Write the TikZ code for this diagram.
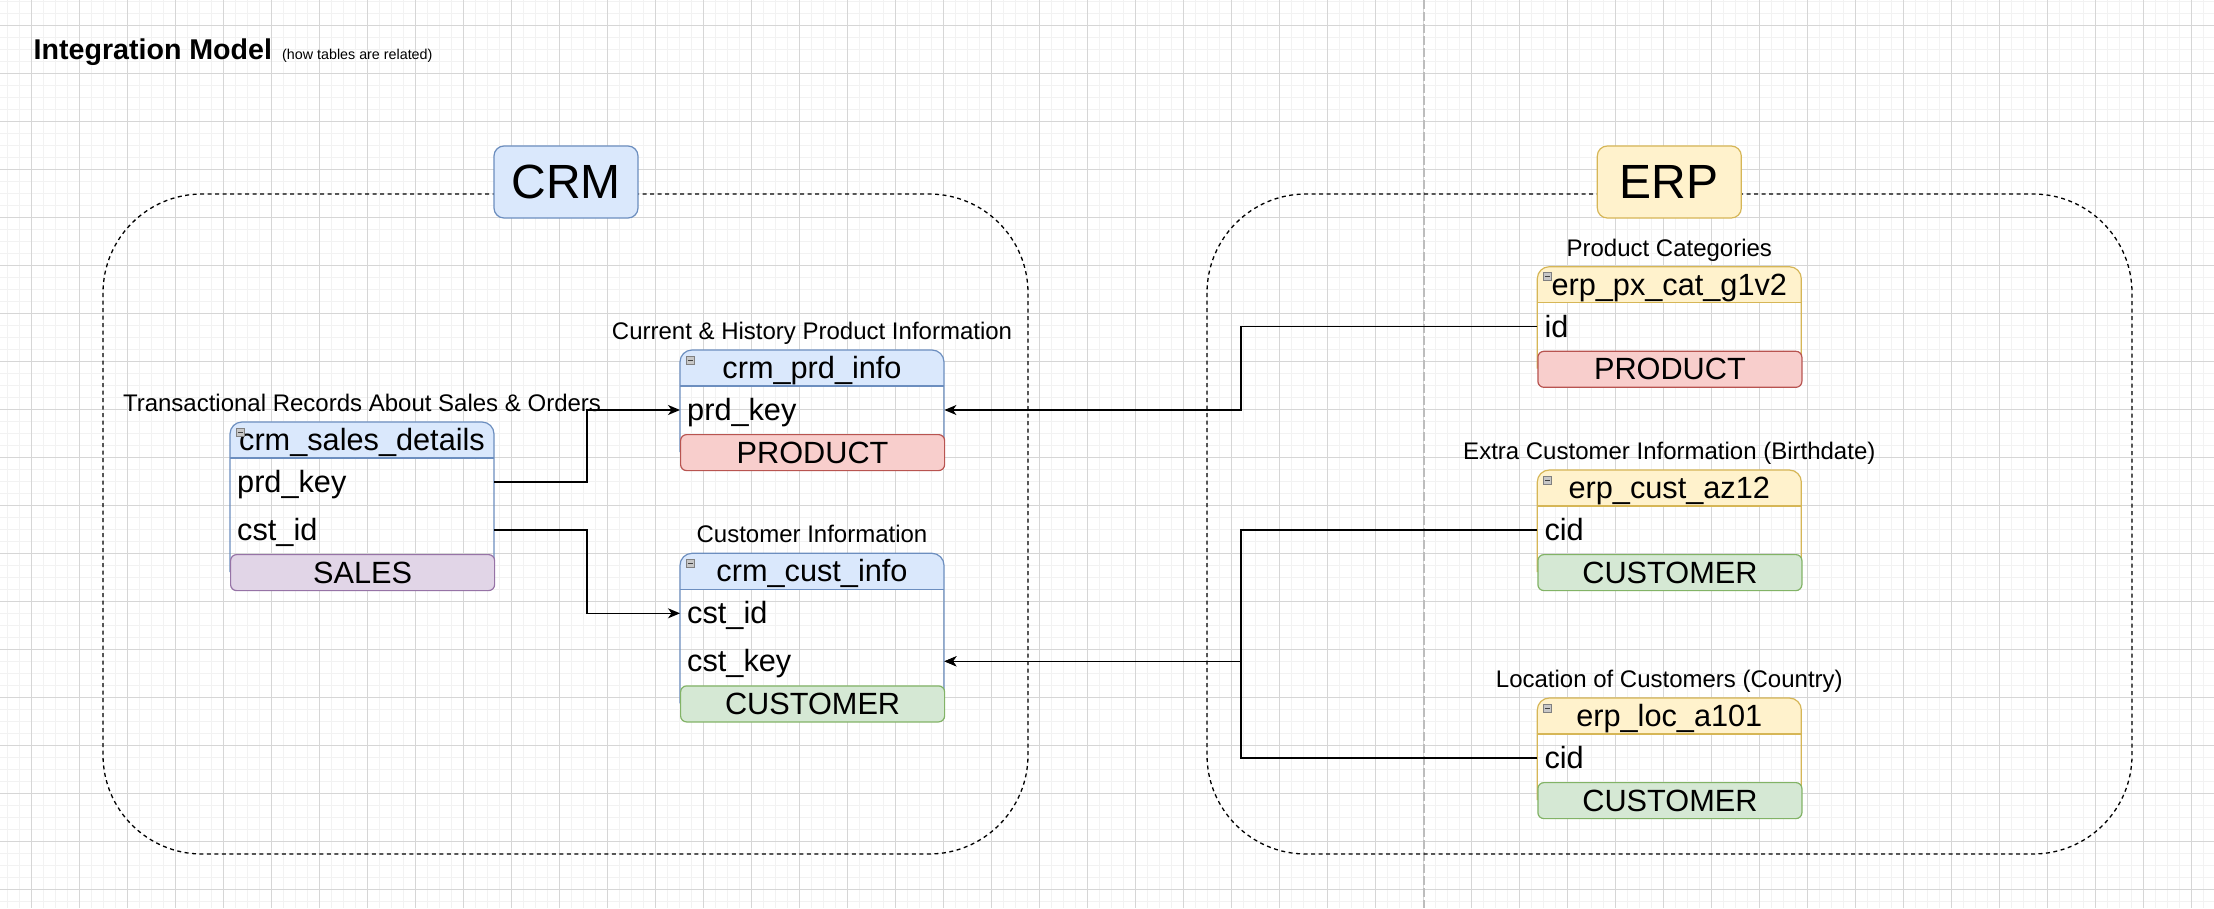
\documentclass[tikz,border=0pt]{standalone}
\usepackage{fontspec}
\setmainfont{Liberation Sans}
\usetikzlibrary{arrows.meta}
\definecolor{blueF}{HTML}{DAE8FC}\definecolor{blueS}{HTML}{6C8EBF}
\definecolor{yellowF}{HTML}{FFF2CC}\definecolor{yellowS}{HTML}{D6B656}
\definecolor{redF}{HTML}{F8CECC}\definecolor{redS}{HTML}{B85450}
\definecolor{greenF}{HTML}{D5E8D4}\definecolor{greenS}{HTML}{82B366}
\definecolor{purpleF}{HTML}{E1D5E7}\definecolor{purpleS}{HTML}{9673A6}
\definecolor{gridMinor}{HTML}{F2F2F2}\definecolor{gridMajor}{HTML}{D6D6D6}
\definecolor{pageLine}{HTML}{BDBDBD}
\tikzset{
  tblline/.style={line width=1.2pt},
  headtext/.style={inner sep=0pt, font=\fontsize{30.7}{36}\selectfont, text height=27.8pt, text depth=6.5pt},
  rowtext/.style={anchor=west, inner xsep=7pt, inner ysep=0pt, minimum height=48pt, text width=250pt, align=left,
    font=\fontsize{30.7}{36}\selectfont, text height=27.8pt, text depth=6.5pt},
  foottext/.style={rounded corners=6pt, tblline, minimum width=264pt, minimum height=36pt, inner sep=0pt,
    font=\fontsize{30.7}{36}\selectfont, text height=27.8pt, text depth=6.5pt},
  lbltext/.style={inner sep=0pt, font=\fontsize{24}{29}\selectfont, text height=21.7pt, text depth=5.1pt},
  minusicon/.style={minimum size=8pt, inner sep=0pt, draw=black!50, fill=black!22, line width=0.8pt,
    path picture={\draw[black!75, line width=1pt] ([xshift=1.5pt]path picture bounding box.west) -- ([xshift=-1.5pt]path picture bounding box.east);}},
  grouplbl/.style={rounded corners=10pt, minimum width=144pt, minimum height=72pt, inner sep=0pt, line width=1.2pt,
    font=\fontsize{48}{58}\selectfont, text height=43.4pt, text depth=10.2pt},
  container/.style={draw=black, line width=1.3pt, dash pattern=on 4pt off 3.5pt, rounded corners=99pt},
  conn/.style={draw=black, line width=1.5pt, -{Stealth[length=12pt, width=10pt, inset=3.5pt]}},
}
% #1 x, #2 top, #3 title, #4 header colour, #5 rows, #6 footer text, #7 footer colour, #8 label, #9 id
\newcommand\dbtable[9]{%
  \pgfmathsetmacro\tbot{#2+36+48*#5}%
  \fill[fill=#4F, rounded corners=12pt] (#1,#2+36) -- (#1,#2) -- (#1+264,#2) -- (#1+264,#2+36);
  \draw[draw=#4S, tblline, rounded corners=12pt] (#1,\tbot+18) -- (#1,#2) -- (#1+264,#2) -- (#1+264,\tbot+18);
  \draw[draw=#4S, tblline] (#1,#2+36) -- (#1+264,#2+36);
  \node[headtext] (#9H) at (#1+132,#2+18) {#3};
  \node[minusicon] (#9I) at (#1+10,#2+10) {};
  \node[foottext, fill=#7F, draw=#7S, anchor=north west] (#9F) at (#1,\tbot) {#6};
  \node[lbltext] (#9L) at (#1+132,#2-19) {#8};
}
\begin{document}
\begin{tikzpicture}[x=1pt, y=-1pt]
  \useasboundingbox (0,0) rectangle (2214,908);
  \fill[white] (0,0) rectangle (2214,908);
  % grid
  \begin{scope}
    \clip (0,0) rectangle (2214,908);
    \foreach \gx in {0,...,184} { \draw[gridMinor, line width=1pt] ({7.7+12*\gx},0) -- ({7.7+12*\gx},908); }
    \foreach \gy in {0,...,75} { \draw[gridMinor, line width=1pt] (0,{1.3+12*\gy}) -- (2214,{1.3+12*\gy}); }
    \foreach \gx in {0,...,45} { \draw[gridMajor, line width=1.2pt] ({31.7+48*\gx},0) -- ({31.7+48*\gx},908); }
    \foreach \gy in {0,...,18} { \draw[gridMajor, line width=1.2pt] (0,{25.3+48*\gy}) -- (2214,{25.3+48*\gy}); }
  \end{scope}
  % page break line
  \draw[pageLine, line width=1.5pt, dash pattern=on 9pt off 3pt] (1424,0) -- (1424,908);
  % title
  \node[anchor=base west, inner sep=0pt, font=\fontsize{28.6}{34}\selectfont\bfseries] (title) at (33.5,59.3) {Integration Model};
  \node[anchor=base west, inner sep=0pt, font=\fontsize{14.3}{17}\selectfont] (subtitle) at (282,59.3) {(how tables are related)};
  % containers
  \draw[container] (103,194) rectangle (1028,854);
  \draw[container] (1207,194) rectangle (2132,854);
  \node[grouplbl, fill=blueF, draw=blueS] (crm) at (566,182) {CRM};
  \node[grouplbl, fill=yellowF, draw=yellowS] (erp) at (1669.3,182) {ERP};
  % CRM tables
  \dbtable{230}{422}{crm\_sales\_details}{blue}{2}{SALES}{purple}{Transactional Records About Sales \& Orders}{sales}
  \node[rowtext] (salesPrd) at (230,482) {prd\_key};
  \node[rowtext] (salesCst) at (230,530) {cst\_id};
  \dbtable{680}{350}{crm\_prd\_info}{blue}{1}{PRODUCT}{red}{Current \& History Product Information}{prd}
  \node[rowtext] (prdKey) at (680,410) {prd\_key};
  \dbtable{680}{553.3}{crm\_cust\_info}{blue}{2}{CUSTOMER}{green}{Customer Information}{cust}
  \node[rowtext] (custId) at (680,613.3) {cst\_id};
  \node[rowtext] (custKey) at (680,661.3) {cst\_key};
  % ERP tables
  \dbtable{1537.3}{266.7}{erp\_px\_cat\_g1v2}{yellow}{1}{PRODUCT}{red}{Product Categories}{px}
  \node[rowtext] (pxId) at (1537.3,326.7) {id};
  \dbtable{1537.3}{470}{erp\_cust\_az12}{yellow}{1}{CUSTOMER}{green}{Extra Customer Information (Birthdate)}{az}
  \node[rowtext] (azCid) at (1537.3,530) {cid};
  \dbtable{1537.3}{698}{erp\_loc\_a101}{yellow}{1}{CUSTOMER}{green}{Location of Customers (Country)}{loc}
  \node[rowtext] (locCid) at (1537.3,758) {cid};
  % connectors
  \draw[conn] (salesPrd.east) -- ++(92.7,0) |- (prdKey.west);
  \draw[conn] (salesCst.east) -- ++(92.7,0) |- (custId.west);
  \draw[conn] (pxId.west) -- ++(-296.3,0) |- (prdKey.east);
  \draw[conn] (azCid.west) -- ++(-296.3,0) |- (custKey.east);
  \draw[conn] (locCid.west) -- ++(-296.3,0) |- (custKey.east);
\end{tikzpicture}
\end{document}
